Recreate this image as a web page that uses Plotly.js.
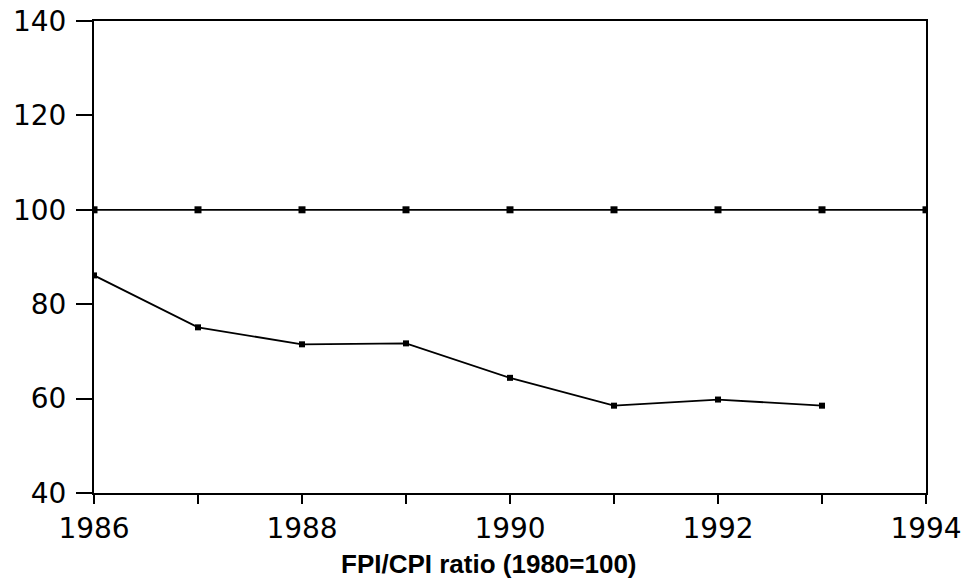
<!DOCTYPE html>
<html>
<head>
<meta charset="utf-8">
<script src="https://cdn.plot.ly/plotly-3.0.1.min.js"></script>
<style>
  html, body { margin: 0; padding: 0; background: #fff; }
  #chart { width: 971px; height: 580px; }
</style>
</head>
<body>
<div id="chart"></div>
<script>
// Data
const baseYears = [1986, 1987, 1988, 1989, 1990, 1991, 1992, 1993, 1994];
const baseValues = [100, 100, 100, 100, 100, 100, 100, 100, 100];
const ratioYears = [1986, 1987, 1988, 1989, 1990, 1991, 1992, 1993];
const ratioValues = [86.1, 75.1, 71.5, 71.7, 64.4, 58.5, 59.8, 58.5];
const xTickVals = [1986, 1987, 1988, 1989, 1990, 1991, 1992, 1993, 1994];
const xTickText = ['1986', '', '1988', '', '1990', '', '1992', '', '1994'];
const yTickVals = [40, 60, 80, 100, 120, 140];
const xTitle = 'FPI/CPI ratio (1980=100)';

const traces = [
  {
    x: baseYears, y: baseValues, type: 'scatter', mode: 'lines+markers',
    line: { color: '#000', width: 1.8 },
    marker: { symbol: 'square', size: 7, color: '#000' },
    showlegend: false, hoverinfo: 'x+y'
  },
  {
    x: ratioYears, y: ratioValues, type: 'scatter', mode: 'lines+markers',
    line: { color: '#000', width: 1.8 },
    marker: { symbol: 'square', size: 6, color: '#000' },
    showlegend: false, hoverinfo: 'x+y'
  }
];

const tickFont = { family: 'DejaVu Sans', size: 28, color: '#000' };

const layout = {
  width: 971, height: 580,
  margin: { l: 94, r: 45, t: 21, b: 87 },
  paper_bgcolor: '#fff', plot_bgcolor: '#fff',
  xaxis: {
    range: [1986, 1994], tickvals: xTickVals, ticktext: xTickText,
    showgrid: false, zeroline: false,
    showline: true, mirror: true, linecolor: '#000', linewidth: 2,
    ticks: 'outside', ticklen: 9, tickwidth: 2, tickcolor: '#000',
    tickfont: tickFont
  },
  yaxis: {
    range: [40, 140], tickvals: yTickVals,
    showgrid: false, zeroline: false,
    showline: true, mirror: true, linecolor: '#000', linewidth: 2,
    ticks: 'outside', ticklen: 16, tickwidth: 2, tickcolor: '#000',
    tickfont: tickFont, ticklabelstandoff: 4
  },
  annotations: [{
    text: '<b>' + xTitle + '</b>',
    xref: 'paper', yref: 'paper', x: 0.475, y: -0.15,
    xanchor: 'center', yanchor: 'middle', showarrow: false,
    font: { family: 'Liberation Sans, Arial, sans-serif', size: 26, color: '#000' }
  }]
};

Plotly.newPlot('chart', traces, layout, { displayModeBar: false, staticPlot: true });
</script>
</body>
</html>
